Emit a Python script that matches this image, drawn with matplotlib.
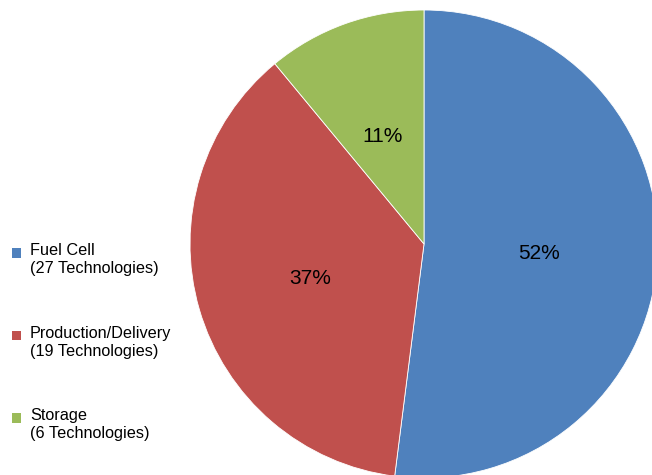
import matplotlib
matplotlib.use("Agg")
import matplotlib.pyplot as plt
from matplotlib.patches import Rectangle
from matplotlib.legend_handler import HandlerBase

plt.rcParams['font.family'] = ['Liberation Sans', 'DejaVu Sans']

names = ["Fuel Cell", "Production/Delivery", "Storage"]
counts = [27, 19, 6]
shares = [52, 37, 11]
colors = ["#4F81BD", "#C0504D", "#9BBB59"]
categories = [f"{n}\n({c} Technologies)" for n, c in zip(names, counts)]
pct_labels = [f"{s}%" for s in shares]

W, H = 652, 475
fig = plt.figure(figsize=(W / 100, H / 100), dpi=100)

# pie axes (pie partly extends past the right/bottom edge like the reference)
cx, cy, r = 424, 244, 234
ax = fig.add_axes([(cx - r) / W, (H - cy - r) / H, 2 * r / W, 2 * r / H])

_it = iter(pct_labels)
wedges, texts, autotexts = ax.pie(
    shares, colors=colors, startangle=90, counterclock=False,
    autopct=lambda p: next(_it), pctdistance=0.5,
    wedgeprops=dict(edgecolor="white", linewidth=0.6),
    textprops=dict(fontsize=15, color="black"), radius=1.0)
for t in autotexts:
    x, y = t.get_position()
    t.set_position((x - 0.008, y - 0.01))
ax.set_xlim(-1, 1)
ax.set_ylim(-1, 1)
ax.set_aspect("equal")
ax.axis("off")


class TopSquare(HandlerBase):
    def create_artists(self, legend, orig_handle, xdescent, ydescent,
                       width, height, fontsize, trans):
        s = 0.58 * fontsize
        y = -ydescent + height - s - 0.11 * fontsize
        p = Rectangle((-xdescent, y), s, s,
                      facecolor=orig_handle.get_facecolor(),
                      edgecolor="none", transform=trans)
        return [p]


fs = 11.7
leg = fig.legend(wedges, categories, loc="upper left",
                 bbox_to_anchor=(12 / W, (H - 243) / H),
                 frameon=False, fontsize=fs, borderpad=0, borderaxespad=0,
                 handlelength=0.56, handleheight=2.3, handletextpad=0.55,
                 labelspacing=3.05,
                 handler_map={w: TopSquare() for w in wedges})
for t in leg.get_texts():
    t.set_linespacing(1.25)
    t.set_color("black")

fig.savefig("out.png", dpi=100)
